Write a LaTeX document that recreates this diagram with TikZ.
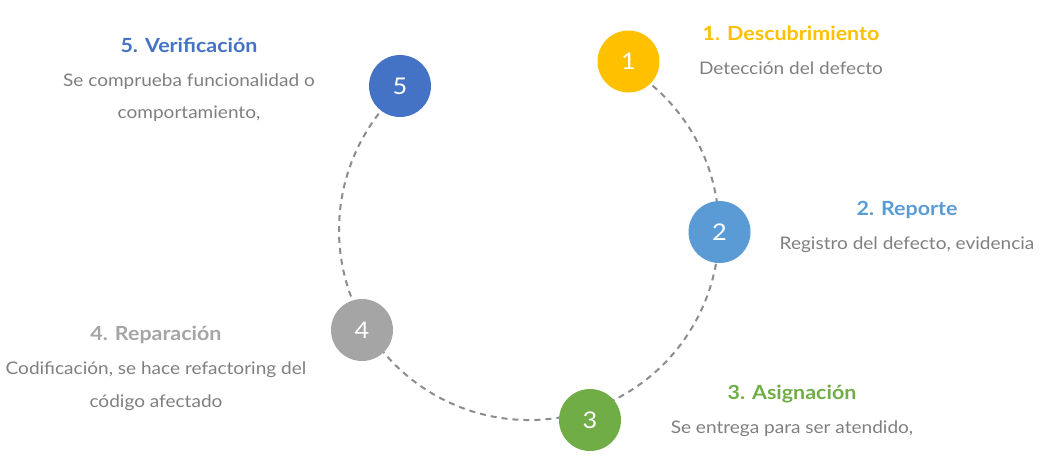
\documentclass[tikz,border=0pt]{standalone}
\usepackage{fontspec}
\setmainfont{Lato}[FakeStretch=1.1]
\definecolor{cY}{HTML}{FFC000}
\definecolor{cB}{HTML}{5B9BD5}
\definecolor{cG}{HTML}{70AD47}
\definecolor{cR}{HTML}{A5A5A5}
\definecolor{cD}{HTML}{4472C4}
\definecolor{txt}{HTML}{7F7F7F}
\definecolor{ring}{HTML}{8C8C8C}
\tikzset{
  stepcircle/.style={circle, minimum size=62pt, inner sep=0pt, text=white, font=\fontsize{23}{23}\selectfont},
  ttl/.style={anchor=base, font=\fontsize{19.5}{19.5}\selectfont\bfseries},
  body/.style={anchor=base, text=txt, font=\fontsize{17.3}{17.3}\selectfont},
  ringline/.style={draw=ring, line width=2pt, dash pattern=on 6pt off 5pt}
}
\begin{document}
\begin{tikzpicture}[x=1pt,y=-1pt]
\useasboundingbox (0,0) rectangle (1040,459);
\coordinate (c) at (529,230);
\draw[ringline] ([shift={(59.4:190pt)}]c) arc[start angle=59.4, end angle=-228.1, radius=190pt];
\node[stepcircle, fill=cY] (n1) at (628.5,61.5) {1};
\node[stepcircle, fill=cB] (n2) at (719.5,232) {2};
\node[stepcircle, fill=cG] (n3) at (590,420) {3};
\node[stepcircle, fill=cR] (n4) at (362,330) {4};
\node[stepcircle, fill=cD] (n5) at (400,86) {5};
% labels
\node[ttl, text=cY] (t1) at (791,40) {1. Descubrimiento};
\node[body] (b1) at (791,74) {Detección del defecto};
\node[ttl, text=cB] (t2) at (907,215) {2. Reporte};
\node[body] (b2) at (907,249) {Registro del defecto, evidencia};
\node[ttl, text=cG] (t3) at (792,399) {3. Asignación};
\node[body] (b3) at (792,433) {Se entrega para ser atendido,};
\node[ttl, text=cR] (t4) at (156,340) {4. Reparación};
\node[body] (b4a) at (156,374) {Codificación, se hace refactoring del};
\node[body] (b4b) at (156,407) {código afectado};
\node[ttl, text=cD] (t5) at (189,52) {5. Verificación};
\node[body] (b5a) at (189,86) {Se comprueba funcionalidad o};
\node[body] (b5b) at (189,118) {comportamiento,};
\end{tikzpicture}
\end{document}
